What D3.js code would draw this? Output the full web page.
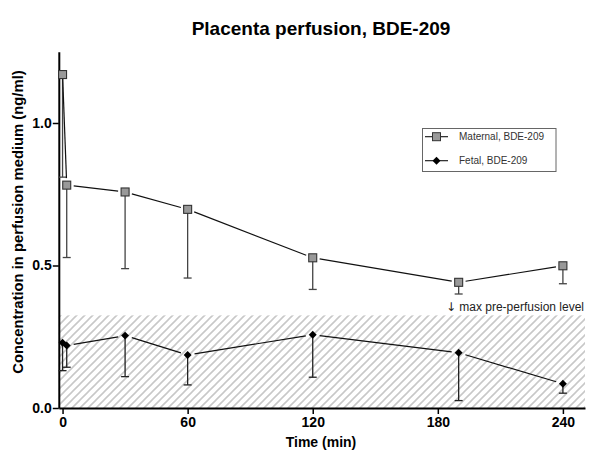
<!DOCTYPE html>
<html><head><meta charset="utf-8">
<script src="https://cdn.jsdelivr.net/npm/d3@7"></script>
<style>body{margin:0;background:#fff}svg{display:block;font-family:"Liberation Sans",Arial,sans-serif}</style>
</head><body><svg id="c" width="600" height="467"></svg>
<script>
const times = [0, 2, 30, 60, 120, 190, 240];
const maternal = [1.17, 0.782, 0.758, 0.697, 0.527, 0.441, 0.499];
const maternalLow = [0.81, 0.528, 0.489, 0.456, 0.416, 0.400, 0.436];
const fetal = [0.229, 0.219, 0.254, 0.186, 0.257, 0.194, 0.085];
const fetalLow = [0.131, 0.143, 0.110, 0.081, 0.108, 0.026, 0.052];
const preLevel = 0.325;
const xTicks = [0, 60, 120, 180, 240];
const yTicks = [0, 0.5, 1.0];
const seriesNames = ["Maternal, BDE-209", "Fetal, BDE-209"];

const svg = d3.select("#c");
const x = d3.scaleLinear().domain([-1.8, 250.6]).range([58.8, 585]);
const y = d3.scaleLinear().domain([0, 1.25]).range([408, 51.75]);

// hatch pattern
const defs = svg.append("defs");
const pat = defs.append("pattern").attr("id","hatch").attr("patternUnits","userSpaceOnUse")
  .attr("width",8).attr("height",8);
pat.append("path").attr("d","M-2,2 L2,-2 M0,8 L8,0 M6,10 L10,6")
  .attr("stroke","#c8c8c8").attr("stroke-width",1.6);

svg.append("rect").attr("x", x(-1.8)).attr("y", y(preLevel))
  .attr("width", x(250.6)-x(-1.8)).attr("height", y(0)-y(preLevel))
  .attr("fill","url(#hatch)");

const note = svg.append("text").attr("x", 584).attr("y", y(preLevel)-4).attr("text-anchor","end")
  .attr("font-size",12).attr("fill","#222");
note.append("tspan").attr("font-family","DejaVu Sans").attr("fill","#222").text("\u2193");
note.append("tspan").text(" max pre-perfusion level");

// axes
const xAxis = d3.axisBottom(x).tickValues(xTicks).tickSize(6).tickSizeOuter(0).tickPadding(3);
const gx = svg.append("g").attr("transform",`translate(0,${y(0)})`).call(xAxis);
gx.select(".domain").attr("stroke-width",2);
gx.selectAll(".tick line").attr("stroke-width",1.5);
gx.selectAll("text").attr("font-size",14).attr("font-weight","bold").attr("font-family","Liberation Sans, Arial").attr("fill","#000");

const yAxis = d3.axisLeft(y).tickValues(yTicks).tickFormat(d3.format(".1f")).tickSize(6).tickSizeOuter(0).tickPadding(1);
const gy = svg.append("g").attr("transform",`translate(${x(-1.8)},0)`).call(yAxis);
gy.select(".domain").attr("stroke-width",2);
gy.selectAll(".tick line").attr("stroke-width",1.5);
gy.selectAll("text").attr("font-size",14).attr("font-weight","bold").attr("font-family","Liberation Sans, Arial").attr("fill","#000");

// titles
svg.append("text").attr("x",321).attr("y",35).attr("text-anchor","middle")
  .attr("font-size",19).attr("font-weight","bold").text("Placenta perfusion, BDE-209");
svg.append("text").attr("x",321).attr("y",447).attr("text-anchor","middle")
  .attr("font-size",14).attr("font-weight","bold").text("Time (min)");
svg.append("text").attr("transform","translate(23,222) rotate(-90)").attr("text-anchor","middle")
  .attr("font-size",14.8).attr("font-weight","bold").text("Concentration in perfusion medium (ng/ml)");

function drawSeries(vals, lows, marker, fill, errColor){
  const g = svg.append("g");
  times.forEach((t,i)=>{
    g.append("line").attr("x1",x(t)).attr("x2",x(t)).attr("y1",y(vals[i])).attr("y2",y(lows[i]))
      .attr("stroke",errColor).attr("stroke-width",1.3);
    g.append("line").attr("x1",x(t)-4).attr("x2",x(t)+4).attr("y1",y(lows[i])).attr("y2",y(lows[i]))
      .attr("stroke",errColor).attr("stroke-width",1.3);
  });
  const gap = 7;
  for(let i=0;i<times.length-1;i++){
    const x1=x(times[i]), y1=y(vals[i]), x2=x(times[i+1]), y2=y(vals[i+1]);
    const L=Math.hypot(x2-x1,y2-y1);
    if(L<=2*gap) continue;
    const ux=(x2-x1)/L, uy=(y2-y1)/L;
    const g1 = i===0 && L>50 ? 4 : gap;
    g.append("line").attr("x1",x1+ux*g1).attr("y1",y1+uy*g1).attr("x2",x2-ux*gap).attr("y2",y2-uy*gap)
      .attr("stroke","#111").attr("stroke-width",1.2);
  }
  times.forEach((t,i)=>{
    if(marker==="square"){
      g.append("rect").attr("x",x(t)-4).attr("y",y(vals[i])-4).attr("width",8).attr("height",8)
        .attr("fill",fill).attr("stroke","#333").attr("stroke-width",1.1);
    } else {
      g.append("path").attr("d",d3.symbol(d3.symbolDiamond2,40)())
        .attr("transform",`translate(${x(t)},${y(vals[i])})`).attr("fill","#000");
    }
  });
}
drawSeries(maternal, maternalLow, "square", "#999", "#444");
drawSeries(fetal, fetalLow, "diamond", "#000", "#222");

// legend
const lg = svg.append("g");
lg.append("rect").attr("x",422.5).attr("y",128.5).attr("width",133.5).attr("height",43)
  .attr("fill","#fff").attr("stroke","#666").attr("stroke-width",1);
const ly = [136.7, 160.7];
seriesNames.forEach((n,i)=>{
  lg.append("line").attr("x1",425).attr("x2",448).attr("y1",ly[i]).attr("y2",ly[i]).attr("stroke","#111").attr("stroke-width",1.1);
  if(i===0){
    lg.append("rect").attr("x",432.5).attr("y",ly[i]-4).attr("width",8).attr("height",8).attr("fill","#999").attr("stroke","#333");
  } else {
    lg.append("path").attr("d",d3.symbol(d3.symbolDiamond2,40)()).attr("transform",`translate(436.5,${ly[i]})`).attr("fill","#000");
  }
  lg.append("text").attr("x",459).attr("y",ly[i]+3.5).attr("font-size",10).attr("fill","#333").text(n);
});
</script></body></html>
